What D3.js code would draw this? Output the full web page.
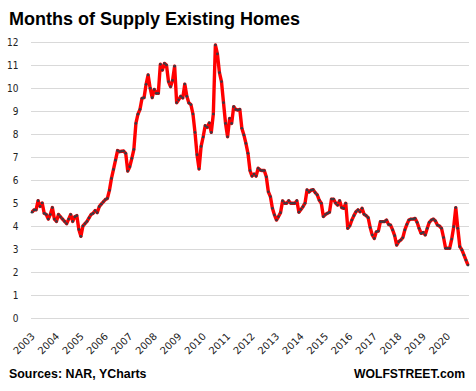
<!DOCTYPE html>
<html>
<head>
<meta charset="utf-8">
<script src="https://cdn.jsdelivr.net/npm/d3@7"></script>
<style>
  body { margin: 0; background: #fff; }
  svg { display: block; }
</style>
</head>
<body>
<svg width="476" height="391"></svg>
<script>
// months of supply, monthly, Jan 2003 .. Nov 2020
var supply = [
  4.6, 4.7, 4.7, 5.1, 4.85, 5.0, 4.55, 4.5, 4.3, 4.5, 4.8, 4.3,        // 2003
  4.2, 4.5, 4.4, 4.3, 4.2, 4.1, 4.3, 4.5, 4.2, 4.4, 4.45, 3.85,       // 2004
  3.55, 4.0, 4.1, 4.2, 4.35, 4.5, 4.55, 4.67, 4.58, 4.84, 4.95, 5.05, // 2005
  5.15, 5.2, 5.55, 6.07, 6.46, 6.86, 7.28, 7.23, 7.25, 7.26, 7.16, 6.39, // 2006
  6.58, 6.94, 7.33, 8.46, 8.86, 9.07, 9.55, 9.58, 10.16, 10.57, 9.99, 9.58, // 2007
  9.94, 9.77, 9.77, 11.03, 10.78, 11.07, 11.0, 10.28, 10.06, 10.33, 10.95, 9.36, // 2008
  9.49, 9.64, 9.57, 10.17, 9.64, 9.35, 9.28, 8.87, 8.07, 7.1, 6.48, 7.46, // 2009
  7.87, 8.36, 8.29, 8.48, 8.07, 8.87, 11.87, 11.48, 10.67, 10.28, 9.36, 8.46, // 2010
  7.88, 8.68, 8.46, 9.19, 9.07, 9.04, 9.07, 8.25, 7.96, 7.59, 7.16, 6.41, // 2011
  6.17, 6.26, 6.17, 6.51, 6.43, 6.41, 6.41, 6.14, 5.49, 5.28, 4.77, 4.48, // 2012
  4.26, 4.41, 4.58, 5.09, 4.99, 4.99, 5.1, 4.99, 4.99, 4.99, 5.1, 4.6,  // 2013
  4.72, 4.84, 4.99, 5.57, 5.48, 5.56, 5.58, 5.45, 5.35, 5.12, 4.99, 4.41, // 2014
  4.5, 4.55, 4.6, 5.17, 5.17, 5.0, 4.91, 5.1, 4.8, 4.77, 4.99, 3.9,     // 2015
  4.01, 4.26, 4.45, 4.62, 4.7, 4.62, 4.77, 4.51, 4.45, 4.36, 3.93, 3.61, // 2016
  3.46, 3.75, 3.78, 4.19, 4.19, 4.19, 4.26, 4.07, 4.04, 3.83, 3.58, 3.17, // 2017
  3.32, 3.39, 3.49, 3.83, 4.07, 4.26, 4.3, 4.3, 4.33, 4.16, 3.9, 3.68,  // 2018
  3.72, 3.61, 3.9, 4.16, 4.26, 4.3, 4.22, 4.04, 4.0, 3.9, 3.5, 3.03,    // 2019
  3.03, 3.03, 3.43, 3.97, 4.8, 3.9, 3.1, 2.96, 2.74, 2.52, 2.3          // 2020
];

var yearLabels = ['2003', '2004', '2005', '2006', '2007', '2008', '2009', '2010', '2011',
  '2012', '2013', '2014', '2015', '2016', '2017', '2018', '2019', '2020'];

var yTicks = [0, 1, 2, 3, 4, 5, 6, 7, 8, 9, 10, 11, 12];

var plotLeft = 31;
var plotRight = 469;
var plotTop = 42;
var plotBottom = 318;

var svg = d3.select('svg');

var xScale = d3.scaleLinear()
  .domain([0, supply.length - 1])
  .range([32, 468]);

var yScale = d3.scaleLinear()
  .domain([0, 12])
  .range([plotBottom, plotTop]);

var yAxis = d3.axisLeft(yScale)
  .tickValues(yTicks)
  .tickSize(-(plotRight - plotLeft))
  .tickPadding(12.5);

var gy = svg.append('g')
  .attr('transform', 'translate(' + plotLeft + ',0)')
  .call(yAxis);
gy.select('.domain').remove();
gy.selectAll('line').attr('stroke', '#d9d9d9');
gy.selectAll('text')
  .attr('fill', '#222')
  .style('font-family', '"DejaVu Sans Condensed", "DejaVu Sans", sans-serif')
  .style('font-size', '10px');

var xAxis = d3.axisBottom(xScale)
  .tickValues(yearLabels.map((d, k) => k * 12))
  .tickFormat((d, k) => yearLabels[k])
  .tickSize(0);

var gx = svg.append('g')
  .attr('transform', 'translate(0,' + plotBottom + ')')
  .call(xAxis);
gx.select('.domain').remove();
gx.selectAll('text')
  .attr('y', 0)
  .attr('dy', 0)
  .attr('fill', '#222')
  .attr('transform', 'translate(3,19) rotate(-45)')
  .style('text-anchor', 'end')
  .style('font-family', '"DejaVu Sans", sans-serif')
  .style('font-size', '10px');

var line = d3.line()
  .x((d, i) => xScale(i))
  .y(d => yScale(d));

svg.append('path')
  .datum(supply)
  .attr('fill', 'none')
  .attr('stroke', '#ff0000')
  .attr('stroke-width', 3.4)
  .attr('stroke-linejoin', 'round')
  .attr('d', line);

svg.append('g')
  .selectAll('circle')
  .data(supply)
  .enter()
  .append('circle')
  .attr('cx', (d, i) => xScale(i))
  .attr('cy', d => yScale(d))
  .attr('r', 1.35)
  .attr('fill', '#3a3a44');

svg.append('text')
  .attr('x', 9)
  .attr('y', 25)
  .style('font-family', '"Liberation Sans", Arial, sans-serif')
  .style('font-weight', 'bold')
  .style('font-size', '18px')
  .text('Months of Supply Existing Homes');

svg.append('text')
  .attr('x', 9)
  .attr('y', 378)
  .style('font-family', '"Liberation Sans", Arial, sans-serif')
  .style('font-weight', 'bold')
  .style('font-size', '12.4px')
  .text('Sources: NAR, YCharts');

svg.append('text')
  .attr('x', 465)
  .attr('y', 378)
  .style('text-anchor', 'end')
  .style('font-family', '"Liberation Sans", Arial, sans-serif')
  .style('font-weight', 'bold')
  .style('font-size', '12.2px')
  .text('WOLFSTREET.com');
</script>
</body>
</html>
